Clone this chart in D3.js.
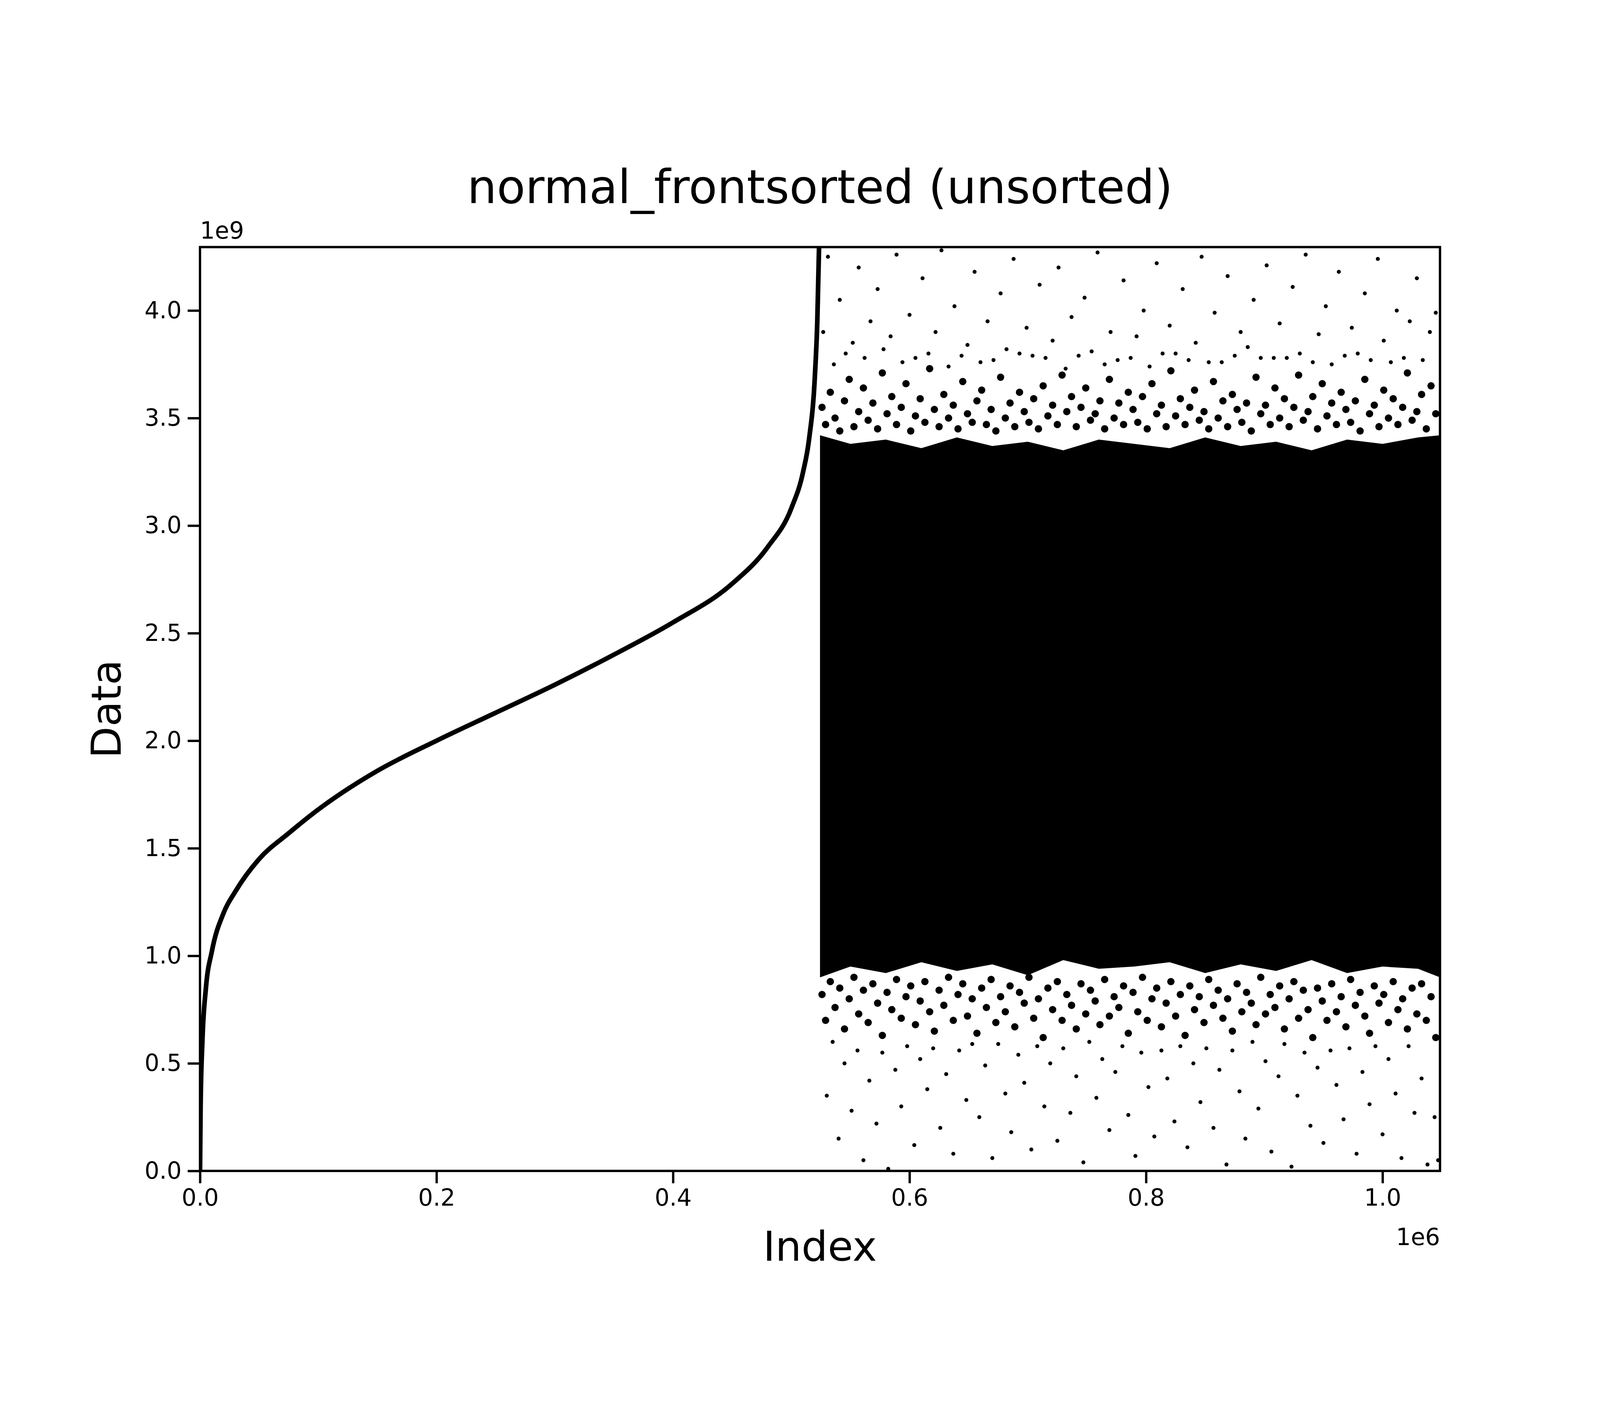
<!DOCTYPE html>
<html><head><meta charset="utf-8">
<script src="https://cdn.jsdelivr.net/npm/d3@7"></script>
<style>html,body{margin:0;padding:0;background:#fff;overflow:hidden}svg{display:block;width:100vw;height:100vh}text{font-family:"DejaVu Sans",sans-serif}</style>
</head><body>
<script>
// Sorted front half: index (×1e6), value (×1e9)
const sortedIdx = [0,0.0005,0.002,0.005,0.01,0.02,0.03,0.05,0.075,0.1,0.15,0.2,0.25,0.3,0.35,0.4,0.45,0.48,0.5,0.51,0.515,0.52,0.522,0.5235];
const sortedVal = [0,0.3,0.6,0.85,1.02,1.2,1.3,1.45,1.57,1.68,1.86,2.0,2.13,2.26,2.4,2.55,2.73,2.9,3.08,3.25,3.4,3.7,3.95,4.3];
// Solid unsorted band edges: index (×1e6), lower/upper (×1e9)
const bandIdx = [0.5243,0.55,0.58,0.61,0.64,0.67,0.70,0.73,0.76,0.79,0.82,0.85,0.88,0.91,0.94,0.97,1.0,1.03,1.0486];
const bandLow = [0.9,0.95,0.92,0.97,0.93,0.96,0.91,0.98,0.94,0.95,0.97,0.92,0.96,0.93,0.98,0.92,0.95,0.94,0.9];
const bandHigh = [3.42,3.38,3.4,3.36,3.41,3.37,3.39,3.35,3.4,3.38,3.36,3.41,3.37,3.39,3.35,3.4,3.38,3.41,3.42];
// Dense fringe points next to the band: [index ×1e6, value ×1e9]
const fringe = [
[0.526,3.55],[0.529,3.47],[0.533,3.62],[0.537,3.5],[0.541,3.44],[0.545,3.58],[0.549,3.68],[0.553,3.46],[0.557,3.53],[0.561,3.64],[0.565,3.49],[0.569,3.57],[0.573,3.45],[0.577,3.71],[0.581,3.52],[0.585,3.6],[0.589,3.47],[0.593,3.55],[0.597,3.66],[0.601,3.44],[0.605,3.51],[0.609,3.59],[0.613,3.48],[0.617,3.73],[0.621,3.54],[0.625,3.46],[0.629,3.61],[0.633,3.5],[0.637,3.56],[0.641,3.45],[0.645,3.67],[0.649,3.52],[0.653,3.48],[0.657,3.58],[0.661,3.63],[0.665,3.47],[0.669,3.54],[0.673,3.44],[0.677,3.69],[0.681,3.5],[0.685,3.57],[0.689,3.46],[0.693,3.62],[0.697,3.53],[0.701,3.48],[0.705,3.59],[0.709,3.45],[0.713,3.65],[0.717,3.51],[0.721,3.56],[0.725,3.47],[0.729,3.7],[0.733,3.53],[0.737,3.6],[0.741,3.46],[0.745,3.55],[0.749,3.64],[0.753,3.49],[0.757,3.52],[0.761,3.58],[0.765,3.45],[0.769,3.68],[0.773,3.5],[0.777,3.57],[0.781,3.47],[0.785,3.62],[0.789,3.54],[0.793,3.48],[0.797,3.6],[0.801,3.45],[0.805,3.66],[0.809,3.52],[0.813,3.56],[0.817,3.46],[0.821,3.72],[0.825,3.51],[0.829,3.59],[0.833,3.47],[0.837,3.55],[0.841,3.63],[0.845,3.49],[0.849,3.53],[0.853,3.45],[0.857,3.67],[0.861,3.5],[0.865,3.58],[0.869,3.46],[0.873,3.61],[0.877,3.54],[0.881,3.48],[0.885,3.57],[0.889,3.44],[0.893,3.69],[0.897,3.52],[0.901,3.56],[0.905,3.47],[0.909,3.64],[0.913,3.5],[0.917,3.59],[0.921,3.46],[0.925,3.55],[0.929,3.7],[0.933,3.49],[0.937,3.53],[0.941,3.6],[0.945,3.45],[0.949,3.66],[0.953,3.51],[0.957,3.57],[0.961,3.47],[0.965,3.62],[0.969,3.54],[0.973,3.48],[0.977,3.58],[0.981,3.44],[0.985,3.68],[0.989,3.52],[0.993,3.56],[0.997,3.46],[1.001,3.63],[1.005,3.5],[1.009,3.59],[1.013,3.47],[1.017,3.55],[1.021,3.71],[1.025,3.49],[1.029,3.53],[1.033,3.61],[1.037,3.45],[1.041,3.65],[1.045,3.52],
[0.526,0.82],[0.529,0.7],[0.533,0.88],[0.537,0.76],[0.541,0.85],[0.545,0.66],[0.549,0.8],[0.553,0.9],[0.557,0.73],[0.561,0.84],[0.565,0.69],[0.569,0.87],[0.573,0.78],[0.577,0.63],[0.581,0.83],[0.585,0.75],[0.589,0.89],[0.593,0.71],[0.597,0.81],[0.601,0.86],[0.605,0.68],[0.609,0.79],[0.613,0.88],[0.617,0.74],[0.621,0.65],[0.625,0.84],[0.629,0.77],[0.633,0.9],[0.637,0.7],[0.641,0.82],[0.645,0.87],[0.649,0.72],[0.653,0.8],[0.657,0.64],[0.661,0.85],[0.665,0.76],[0.669,0.89],[0.673,0.69],[0.677,0.81],[0.681,0.74],[0.685,0.86],[0.689,0.67],[0.693,0.83],[0.697,0.78],[0.701,0.9],[0.705,0.71],[0.709,0.8],[0.713,0.62],[0.717,0.85],[0.721,0.75],[0.725,0.88],[0.729,0.7],[0.733,0.82],[0.737,0.77],[0.741,0.66],[0.745,0.87],[0.749,0.73],[0.753,0.84],[0.757,0.79],[0.761,0.68],[0.765,0.89],[0.769,0.72],[0.773,0.81],[0.777,0.76],[0.781,0.86],[0.785,0.64],[0.789,0.83],[0.793,0.74],[0.797,0.9],[0.801,0.7],[0.805,0.8],[0.809,0.85],[0.813,0.67],[0.817,0.78],[0.821,0.88],[0.825,0.72],[0.829,0.82],[0.833,0.63],[0.837,0.86],[0.841,0.75],[0.845,0.81],[0.849,0.69],[0.853,0.89],[0.857,0.77],[0.861,0.84],[0.865,0.71],[0.869,0.8],[0.873,0.65],[0.877,0.87],[0.881,0.74],[0.885,0.83],[0.889,0.78],[0.893,0.68],[0.897,0.9],[0.901,0.73],[0.905,0.82],[0.909,0.76],[0.913,0.86],[0.917,0.66],[0.921,0.8],[0.925,0.88],[0.929,0.71],[0.933,0.84],[0.937,0.75],[0.941,0.62],[0.945,0.85],[0.949,0.79],[0.953,0.7],[0.957,0.87],[0.961,0.74],[0.965,0.81],[0.969,0.67],[0.973,0.89],[0.977,0.77],[0.981,0.83],[0.985,0.72],[0.989,0.64],[0.993,0.86],[0.997,0.78],[1.001,0.82],[1.005,0.69],[1.009,0.88],[1.013,0.75],[1.017,0.8],[1.021,0.66],[1.025,0.85],[1.029,0.73],[1.033,0.87],[1.037,0.7],[1.041,0.81],[1.045,0.62]
];
// Sparse outlier points: [index ×1e6, value ×1e9]
const outliers = [
[0.527,3.9],[0.531,4.25],[0.536,3.75],[0.541,4.05],[0.546,3.8],[0.552,3.85],[0.557,4.2],[0.562,3.78],[0.567,3.95],[0.573,4.1],[0.578,3.82],[0.584,3.88],[0.589,4.26],[0.594,3.76],[0.6,3.98],[0.605,3.78],[0.611,4.15],[0.616,3.8],[0.622,3.9],[0.627,4.28],[0.633,3.74],[0.638,4.02],[0.644,3.79],[0.649,3.84],[0.655,4.18],[0.66,3.76],[0.666,3.95],[0.671,3.77],[0.677,4.08],[0.682,3.82],[0.688,4.24],[0.693,3.8],[0.699,3.92],[0.704,3.79],[0.71,4.12],[0.715,3.78],[0.721,3.86],[0.726,4.2],[0.732,3.73],[0.737,3.97],[0.743,3.79],[0.748,4.06],[0.754,3.81],[0.759,4.27],[0.765,3.75],[0.77,3.9],[0.776,3.77],[0.781,4.14],[0.787,3.78],[0.792,3.88],[0.798,4.0],[0.803,3.74],[0.809,4.22],[0.814,3.8],[0.82,3.93],[0.825,3.8],[0.831,4.1],[0.836,3.77],[0.842,3.85],[0.847,4.25],[0.853,3.76],[0.858,3.99],[0.864,3.76],[0.869,4.16],[0.875,3.79],[0.88,3.9],[0.886,3.83],[0.891,4.05],[0.897,3.78],[0.902,4.21],[0.908,3.78],[0.913,3.94],[0.919,3.78],[0.924,4.11],[0.93,3.8],[0.935,4.26],[0.941,3.76],[0.946,3.89],[0.952,4.02],[0.957,3.75],[0.963,4.18],[0.968,3.79],[0.974,3.92],[0.979,3.8],[0.985,4.08],[0.99,3.77],[0.996,4.24],[1.001,3.86],[1.007,3.76],[1.012,4.0],[1.018,3.78],[1.023,3.95],[1.029,4.15],[1.034,3.77],[1.04,3.9],[1.045,3.99],
[0.53,0.35],[0.535,0.6],[0.54,0.15],[0.545,0.5],[0.551,0.28],[0.556,0.56],[0.561,0.05],[0.566,0.42],[0.572,0.22],[0.577,0.55],[0.582,0.01],[0.588,0.47],[0.593,0.3],[0.598,0.58],[0.604,0.12],[0.609,0.52],[0.615,0.38],[0.62,0.57],[0.626,0.2],[0.631,0.45],[0.637,0.08],[0.642,0.56],[0.648,0.33],[0.653,0.59],[0.659,0.25],[0.664,0.49],[0.67,0.06],[0.675,0.59],[0.681,0.36],[0.686,0.18],[0.692,0.54],[0.697,0.41],[0.703,0.1],[0.708,0.58],[0.714,0.3],[0.719,0.5],[0.725,0.14],[0.73,0.57],[0.736,0.27],[0.741,0.44],[0.747,0.04],[0.752,0.6],[0.758,0.34],[0.763,0.52],[0.769,0.19],[0.774,0.46],[0.78,0.58],[0.785,0.26],[0.791,0.07],[0.796,0.55],[0.802,0.39],[0.807,0.16],[0.813,0.56],[0.818,0.43],[0.824,0.23],[0.829,0.58],[0.835,0.11],[0.84,0.5],[0.846,0.32],[0.851,0.57],[0.857,0.2],[0.862,0.47],[0.868,0.03],[0.873,0.56],[0.879,0.37],[0.884,0.15],[0.89,0.6],[0.895,0.29],[0.901,0.51],[0.906,0.09],[0.912,0.44],[0.917,0.59],[0.923,0.02],[0.928,0.35],[0.934,0.55],[0.939,0.21],[0.945,0.48],[0.95,0.13],[0.956,0.56],[0.961,0.4],[0.967,0.24],[0.972,0.57],[0.978,0.08],[0.983,0.46],[0.989,0.31],[0.994,0.58],[1.0,0.17],[1.005,0.52],[1.011,0.36],[1.016,0.06],[1.022,0.58],[1.027,0.27],[1.033,0.43],[1.038,0.03],[1.044,0.25],[1.047,0.05]
];
const xTicks = [0,0.2,0.4,0.6,0.8,1.0];
const yTicks = [0,0.5,1.0,1.5,2.0,2.5,3.0,3.5,4.0];

const W=4800,H=3600,L=600,R=4320,T=432,B=3204;
const svg=d3.select("body").append("svg").attr("viewBox",`0 0 ${W} ${H}`).attr("preserveAspectRatio","xMidYMid meet");
svg.append("rect").attr("width",W).attr("height",H).attr("fill","#fff");
const x=d3.scaleLinear().domain([0,1.048576]).range([L,R]);
const y=d3.scaleLinear().domain([0,4.294967]).range([B,T]);
svg.append("clipPath").attr("id","c").append("rect").attr("x",L).attr("y",T).attr("width",R-L).attr("height",B-T);
const g=svg.append("g").attr("clip-path","url(#c)");

const bandData=bandIdx.map((v,i)=>({x:v,lo:bandLow[i],hi:bandHigh[i]}));
g.append("path").datum(bandData).attr("fill","#000")
 .attr("d",d3.area().x(d=>x(d.x)).y0(d=>y(d.lo)).y1(d=>y(d.hi)));
g.selectAll("circle.f").data(fringe).join("circle").attr("class","f").attr("cx",d=>x(d[0])).attr("cy",d=>y(d[1])).attr("r",11).attr("fill","#000");
g.selectAll("circle.o").data(outliers).join("circle").attr("class","o").attr("cx",d=>x(d[0])).attr("cy",d=>y(d[1])).attr("r",6).attr("fill","#000");

g.append("path").datum(sortedIdx.map((v,i)=>[v,sortedVal[i]])).attr("fill","none").attr("stroke","#000").attr("stroke-width",14)
 .attr("d",d3.line().x(d=>x(d[0])).y(d=>y(d[1])).curve(d3.curveMonotoneX));

const fs=70;
const xa=svg.append("g").attr("transform",`translate(0,${B})`).call(d3.axisBottom(x).tickValues(xTicks).tickFormat(d3.format(".1f")).tickSize(37).tickPadding(18));
const ya=svg.append("g").attr("transform",`translate(${L},0)`).call(d3.axisLeft(y).tickValues(yTicks).tickFormat(d3.format(".1f")).tickSize(37).tickPadding(18));
[xa,ya].forEach(a=>{a.select(".domain").remove();a.selectAll("line").attr("stroke","#000").attr("stroke-width",7);a.selectAll("text").attr("font-size",fs).attr("fill","#000").style("font-family","DejaVu Sans");});
svg.append("rect").attr("x",L).attr("y",T).attr("width",R-L).attr("height",B-T).attr("fill","none").attr("stroke","#000").attr("stroke-width",7);

svg.append("text").attr("x",L).attr("y",407).attr("font-size",fs).text("1e9");
svg.append("text").attr("x",R).attr("y",3427).attr("text-anchor","end").attr("font-size",fs).text("1e6");
svg.append("text").attr("x",(L+R)/2).attr("y",300).attr("text-anchor","middle").attr("font-size",140).text("normal_frontsorted (unsorted)");
svg.append("text").attr("x",(L+R)/2).attr("y",3473).attr("text-anchor","middle").attr("font-size",124).text("Index");
svg.append("text").attr("transform",`translate(362,${(T+B)/2}) rotate(-90)`).attr("text-anchor","middle").attr("font-size",124).text("Data");
</script>
</body></html>
